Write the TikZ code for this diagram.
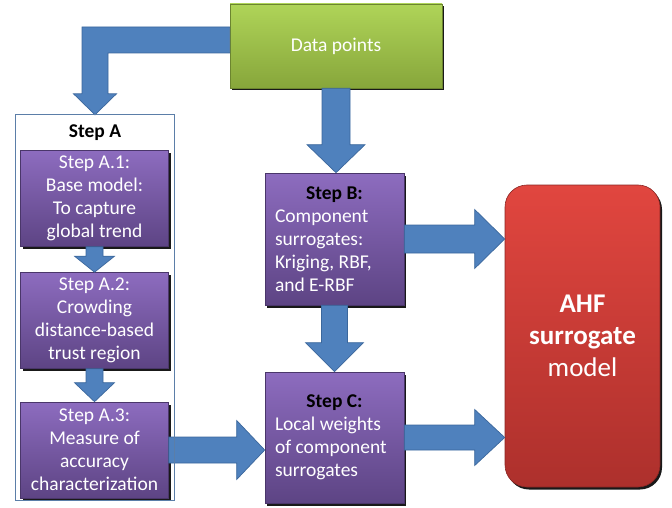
\documentclass[tikz,border=0pt]{standalone}
\usepackage{fontspec}
\setmainfont{Carlito}
\usepackage{tikz}
\usetikzlibrary{calc, shadows}

\definecolor{arrowblue}{HTML}{4F81BD}
\definecolor{arrowedge}{HTML}{3B679C}
\definecolor{purpletop}{HTML}{8D6CBF}
\definecolor{purplebot}{HTML}{5D4484}
\definecolor{greentop}{HTML}{AFD458}
\definecolor{greenbot}{HTML}{87A63B}
\definecolor{redtop}{HTML}{E1463F}
\definecolor{redbot}{HTML}{AD302C}
\definecolor{frameblue}{HTML}{5B7EA8}

% 太い矢印 (始点, 終点, 軸の半幅, 頭の半幅, 頭の長さ)
\newcommand{\fatarrow}[5]{%
  \coordinate (fa-head) at ($(#2)!#5pt!(#1)$);
  \filldraw[fatarrow] ($(#1)!#3pt!90:(#2)$)
    -- ($(fa-head)!#3pt!90:(#2)$) -- ($(fa-head)!#4pt!90:(#2)$)
    -- (#2)
    -- ($(fa-head)!#4pt!-90:(#2)$) -- ($(fa-head)!#3pt!-90:(#2)$)
    -- ($(#1)!#3pt!-90:(#2)$) -- cycle;
}

\begin{document}
\begin{tikzpicture}[x=1pt, y=-1pt,
  box/.style={line width=0.6pt, inner sep=0pt,
    drop shadow={shadow xshift=2pt, shadow yshift=-2.5pt, fill=black, opacity=0.9}},
  purplebox/.style={box, draw=purplebot!80!black, top color=purpletop, bottom color=purplebot,
    text=white, font=\fontsize{19.5}{23}\selectfont},
  greenbox/.style={box, draw=greenbot!80!black, top color=greentop, bottom color=greenbot,
    text=white, font=\fontsize{19.5}{23}\selectfont},
  redbox/.style={box, draw=redbot!80!black, top color=redtop, bottom color=redbot,
    rounded corners=22pt, text=white, font=\fontsize{27}{32}\selectfont},
  fatarrow/.style={fill=arrowblue, draw=arrowedge, line width=0.7pt, line join=miter},
  frameline/.style={draw=frameblue, line width=0.9pt},
  title/.style={text=black, font=\fontsize{19.5}{23}\selectfont\bfseries}
]
\useasboundingbox (0,0) rectangle (672,508);

% 入力
\node[greenbox, minimum width=212pt, minimum height=84pt] (data) at (336,46) {Data points};

% Step A
\node[minimum width=158pt, minimum height=385pt, inner sep=0pt] (stepA) at (95,307.5) {};
\node[title] (stepAtitle) at (95,133) {Step A};
\foreach \name/\y/\txt in {
  stepA1/198.5/{Step A.1:\\Base model:\\To capture\\global trend},
  stepA2/320.5/{Step A.2:\\Crowding\\distance-based\\trust region},
  stepA3/450/{Step A.3:\\Measure of\\accuracy\\characterization}} {
  \node[purplebox, align=center, minimum width=148pt, minimum height=96pt] (\name) at (94.5,\y) {\txt};
}

% Step B, Step C
\node[purplebox, align=left, minimum width=139pt, minimum height=132pt]
  (stepB) at (334.5,239)
  {\makebox[119pt]{\color{black}\bfseries Step B:}\\Component\\surrogates:\\Kriging, RBF,\\and E-RBF};
\node[purplebox, align=left, minimum width=139pt, minimum height=131pt]
  (stepC) at (334.5,437.5)
  {\makebox[119pt]{\color{black}\bfseries Step C:}\\Local weights\\of component\\surrogates};

% 出力
\node[redbox, align=center, minimum width=155pt, minimum height=302pt] (ahf) at (582.5,336)
  {\textbf{AHF}\\\textbf{surrogate}\\model};

% 矢印
\coordinate (dataL) at ($(data.west)+(0,-6)$);
\coordinate (elbow) at (stepA.north |- dataL);
\filldraw[fatarrow] ($(dataL)+(0,-13)$) -- ($(elbow)+(-13,-13)$)
  -- ($(stepA.north)+(-13,-21)$) -- ($(stepA.north)+(-21.5,-21)$)
  -- (stepA.north)
  -- ($(stepA.north)+(21.5,-21)$) -- ($(stepA.north)+(13,-21)$)
  -- ($(elbow)+(13,13)$) -- ($(dataL)+(0,13)$) -- cycle;

\coordinate (bIn) at (data.south |- stepB.north);
\coordinate (ahfB) at (stepB.east -| ahf.west);
\coordinate (ahfC) at (stepC.east -| ahf.west);
\coordinate (cIn) at (stepA3.east -| stepC.west);
\foreach \from/\to/\sw/\hw/\hl in {
  stepA1.south/stepA2.north/8.5/20/16,
  stepA2.south/stepA3.north/8.5/20/19,
  data.south/bIn/14/29/28,
  stepB.south/stepC.north/13/29/29,
  stepB.east/ahfB/14/29.5/30,
  stepC.east/ahfC/12.5/28/30,
  stepA3.east/cIn/13/29.5/28} {
  \fatarrow{\from}{\to}{\sw}{\hw}{\hl}
}

% 枠
\draw[frameline] (stepA.north west) rectangle (stepA.south east);

\end{tikzpicture}
\end{document}
